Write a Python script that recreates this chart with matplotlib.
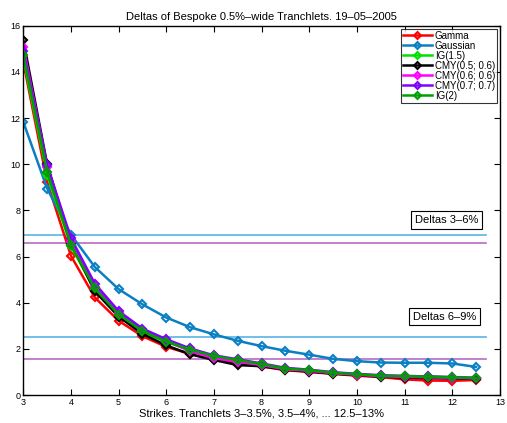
import matplotlib
matplotlib.use("Agg")
import matplotlib.pyplot as plt
import numpy as np

plt.rcParams['font.family'] = ['Liberation Sans', 'DejaVu Sans']

strikes = [3, 3.5, 4, 4.5, 5, 5.5, 6, 6.5, 7, 7.5, 8, 8.5, 9, 9.5, 10, 10.5, 11, 11.5, 12, 12.5]

gamma = [14.43, 9.23, 6.03, 4.23, 3.22, 2.55, 2.09, 1.78, 1.55, 1.38, 1.24, 1.08, 1.00, 0.92, 0.84, 0.78, 0.68, 0.63, 0.62, 0.65]
gaussian = [11.83, 8.95, 6.95, 5.55, 4.59, 3.93, 3.36, 2.94, 2.63, 2.35, 2.12, 1.92, 1.75, 1.57, 1.47, 1.41, 1.40, 1.40, 1.37, 1.22]
ig15 = [14.60, 9.55, 6.45, 4.55, 3.45, 2.74, 2.30, 1.95, 1.68, 1.50, 1.32, 1.14, 1.06, 0.96, 0.89, 0.83, 0.81, 0.79, 0.76, 0.73]
cmy_05_06 = [15.37, 10.00, 6.60, 4.50, 3.40, 2.65, 2.15, 1.77, 1.52, 1.30, 1.25, 1.10, 1.02, 0.93, 0.86, 0.80, 0.76, 0.74, 0.72, 0.70]
cmy_06_06 = [15.10, 9.90, 6.65, 4.70, 3.55, 2.80, 2.35, 1.90, 1.60, 1.45, 1.30, 1.12, 1.05, 0.95, 0.88, 0.82, 0.79, 0.77, 0.75, 0.72]
cmy_07_07 = [14.90, 9.95, 6.80, 4.83, 3.64, 2.88, 2.42, 2.02, 1.72, 1.55, 1.37, 1.18, 1.10, 0.99, 0.92, 0.86, 0.83, 0.81, 0.78, 0.75]
ig2 = [14.72, 9.67, 6.50, 4.62, 3.49, 2.77, 2.32, 1.97, 1.69, 1.52, 1.34, 1.15, 1.08, 0.97, 0.90, 0.84, 0.82, 0.80, 0.77, 0.74]

series_labels = ['Gamma', 'Gaussian', 'IG(1.5)', 'CMY(0.5; 0.6)', 'CMY(0.6; 0.6)', 'CMY(0.7; 0.7)', 'IG(2)']
series_values = [gamma, gaussian, ig15, cmy_05_06, cmy_06_06, cmy_07_07, ig2]
series_colors = ['#ff0000', '#0a7fc4', '#00e000', '#000000', '#ff00ff', '#8000ff', '#00a000']

hline_levels_blue = [6.95, 2.52]
hline_levels_purple = [6.6, 1.56]
hline_span = [3, 12.7]
box_texts = ['Deltas 3\u20136%', 'Deltas 6\u20139%']
box_pos = [(11.88, 7.6), (11.83, 3.4)]

fig = plt.figure(figsize=(5.07, 4.23), dpi=100)
ax = fig.add_axes([0.046, 0.066, 0.94, 0.873])

for lvl in hline_levels_blue:
    ax.plot(hline_span, [lvl, lvl], color='#5ab4e5', lw=1.2)
for lvl in hline_levels_purple:
    ax.plot(hline_span, [lvl, lvl], color='#b76cc4', lw=1.2)

for lab, vals, col in zip(series_labels, series_values, series_colors):
    ax.plot(strikes, vals, color=col, lw=1.8, marker='D', markersize=4.3,
            markerfacecolor='none', markeredgecolor=col, markeredgewidth=1.5, label=lab)

for t, (bx, by) in zip(box_texts, box_pos):
    ax.text(bx, by, t, ha='center', va='center', fontsize=8,
            bbox=dict(boxstyle='square,pad=0.35', fc='white', ec='black', lw=0.8))

ax.set_xlim(3, 13)
ax.set_ylim(0, 16)
ax.set_xticks(range(3, 14))
ax.set_yticks(range(0, 17, 2))
ax.tick_params(direction='in', top=True, right=True, labelsize=6.5, length=4, width=0.8, pad=2)
for s in ax.spines.values():
    s.set_linewidth(1.0)
ax.set_title('Deltas of Bespoke 0.5%\u2013wide Tranchlets. 19\u201305\u20132005', fontsize=8, pad=4)
ax.set_xlabel('Strikes. Tranchlets 3\u20133.5%, 3.5\u20134%, ... 12.5\u201313%', fontsize=8, labelpad=1)

leg = ax.legend(loc='upper right', fontsize=7, frameon=True, fancybox=False, edgecolor='black',
                borderpad=0.2, labelspacing=0.0, handlelength=3.0, handletextpad=0.3,
                borderaxespad=0.3)
leg.get_frame().set_linewidth(0.8)
for h in leg.get_lines():
    h.set_markersize(3.5)

fig.savefig('out.png', dpi=100)
